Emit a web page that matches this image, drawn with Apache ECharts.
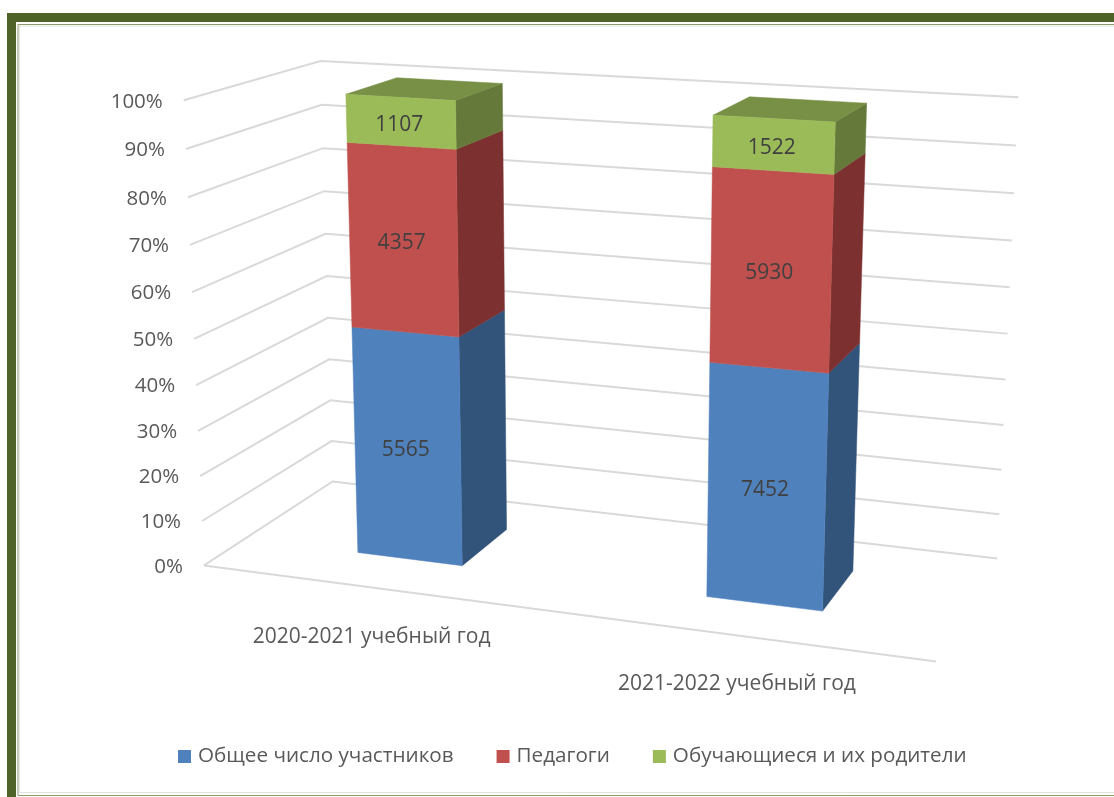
<!DOCTYPE html>
<html>
<head>
<meta charset="utf-8">
<style>
html, body { margin: 0; padding: 0; background: #fff; }
#chart { width: 1114px; height: 797px; }
</style>
<script src="https://cdn.jsdelivr.net/npm/echarts@6/dist/echarts.min.js"></script>
</head>
<body>
<div id="chart"></div>
<script>
var categories = ['2020-2021 учебный год', '2021-2022 учебный год'];
var seriesNames = ['Общее число участников', 'Педагоги', 'Обучающиеся и их родители'];
var participants = [5565, 7452];
var teachers = [4357, 5930];
var students = [1107, 1522];
var ticks = [0, 10, 20, 30, 40, 50, 60, 70, 80, 90, 100];
var tickLabels = ['0%', '10%', '20%', '30%', '40%', '50%', '60%', '70%', '80%', '90%', '100%'];

var font = '"Open Sans", "Noto Sans", sans-serif';
var faceColors = [
  { front: '#4f81bd', side: '#32537a', top: '#3f6897' },
  { front: '#c0504d', side: '#7c3130', top: '#9a403e' },
  { front: '#9bbb59', side: '#657a3a', top: '#788f46' }
];

// 透视标定：立方体的角 [x(0-1), y(0-1), z(0-1), 屏幕u, 屏幕v]
var anchors = [
  [0, 0, 0, 206, 565], [0, 1, 0, 182, 102],
  [0, 0, 1, 331, 482], [0, 1, 1, 323, 60],
  [1, 0, 1, 997, 559], [1, 1, 1, 1018, 97],
  [1, 0, 0, 937, 661], [0, 0.5, 0, 193, 338]
];

function solve(A, b) {
  var n = b.length, M = A.map(function (r, i) { return r.concat(b[i]); });
  for (var i = 0; i < n; i++) {
    var piv = i;
    for (var k = i + 1; k < n; k++) if (Math.abs(M[k][i]) > Math.abs(M[piv][i])) piv = k;
    var t = M[i]; M[i] = M[piv]; M[piv] = t;
    for (var k2 = 0; k2 < n; k2++) {
      if (k2 === i) continue;
      var f = M[k2][i] / M[i][i];
      for (var j = i; j <= n; j++) M[k2][j] -= f * M[i][j];
    }
  }
  return M.map(function (r, i) { return r[n] / r[i]; });
}

function fitCamera() {
  var rows = [], rhs = [];
  anchors.forEach(function (a) {
    var X = a[0], Y = a[1], Z = a[2], u = a[3] / 1000, v = a[4] / 1000;
    rows.push([X, Y, Z, 1, 0, 0, 0, 0, -u * X, -u * Y, -u * Z]); rhs.push(u);
    rows.push([0, 0, 0, 0, X, Y, Z, 1, -v * X, -v * Y, -v * Z]); rhs.push(v);
  });
  var AtA = [], Atb = [];
  for (var i = 0; i < 11; i++) {
    AtA.push([]);
    var s = 0;
    for (var r = 0; r < rows.length; r++) s += rows[r][i] * rhs[r];
    Atb.push(s);
    for (var j = 0; j < 11; j++) {
      var q = 0;
      for (var r2 = 0; r2 < rows.length; r2++) q += rows[r2][i] * rows[r2][j];
      AtA[i].push(q);
    }
  }
  return solve(AtA, Atb);
}
var cam = fitCamera();

function project(X, Y, Z) {
  var w = cam[8] * X + cam[9] * Y + cam[10] * Z + 1;
  return [1000 * (cam[0] * X + cam[1] * Y + cam[2] * Z + cam[3]) / w,
          1000 * (cam[4] * X + cam[5] * Y + cam[6] * Z + cam[7]) / w];
}

var barHalfWidth = 0.155, barFront = 0.3, barBack = 0.705;
var GRID_SIZE = 700;

// 用坐标轴把数值换成 0-1，再投影
function cube(api, xv, yv, z) {
  var c = api.coord([xv, yv]);
  return project(c[0] / GRID_SIZE, 1 - c[1] / GRID_SIZE, z);
}

function renderGridline(params, api) {
  var v = api.value(0);
  var a = cube(api, 0, v, 0), b = cube(api, 0, v, 1), c = cube(api, 2, v, 1);
  var lineStyle = { stroke: '#d9d9d9', lineWidth: 2, fill: null };
  var children = [
    { type: 'polyline', shape: { points: [a, b, c] }, style: lineStyle },
    { type: 'text', x: a[0] - 21, y: a[1] + 1.5, style: {
      text: tickLabels[params.dataIndex], fill: '#595959', fontSize: 20.5, fontFamily: font,
      align: 'right', verticalAlign: 'middle' } }
  ];
  if (v === 0) {
    var d = cube(api, 2, 0, 0);
    children.push({ type: 'line', shape: { x1: a[0], y1: a[1], x2: d[0], y2: d[1] }, style: lineStyle });
  }
  return { type: 'group', children: children };
}

function poly(points, color) {
  return { type: 'polygon', shape: { points: points }, style: { fill: color, stroke: color, lineWidth: 0.5 } };
}

function makeBarRenderer(idx) {
  return function (params, api) {
    var cat = api.value(0), lo = api.value(1), hi = api.value(2);
    var x0 = cat + 0.5 - barHalfWidth, x1 = cat + 0.5 + barHalfWidth;
    var fl = cube(api, x0, lo, barFront), fr = cube(api, x1, lo, barFront), br = cube(api, x1, lo, barBack);
    var tl = cube(api, x0, hi, barFront), tr = cube(api, x1, hi, barFront), trb = cube(api, x1, hi, barBack);
    var tlb = cube(api, x0, hi, barBack);
    var colors = faceColors[idx], children = [];
    children.push(poly([fr, br, trb, tr], colors.side));
    if (idx === seriesNames.length - 1) children.push(poly([tl, tr, trb, tlb], colors.top));
    children.push(poly([fl, fr, tr, tl], colors.front));
    var mid = cube(api, cat + 0.5, (lo + hi) / 2, barFront);
    children.push({ type: 'text', x: mid[0] - 1.5, y: mid[1] + 3, style: {
      text: String(api.value(3)), fill: '#404040', fontSize: 21, fontFamily: font,
      align: 'center', verticalAlign: 'middle' } });
    return { type: 'group', children: children };
  };
}

function renderCategory(params, api) {
  var p = cube(api, api.value(0) + 0.5, 0, 0);
  return { type: 'text', x: p[0] - 1, y: p[1] + 49, style: {
    text: categories[params.dataIndex], fill: '#595959', fontSize: 21, fontFamily: font,
    align: 'center', verticalAlign: 'middle' } };
}

var valueSets = [participants, teachers, students];
var barSeries = seriesNames.map(function (name, idx) {
  var data = categories.map(function (c, i) {
    var total = participants[i] + teachers[i] + students[i], below = 0;
    for (var k = 0; k < idx; k++) below += valueSets[k][i];
    return [i, below / total * 100, (below + valueSets[idx][i]) / total * 100, valueSets[idx][i]];
  });
  return {
    name: name, type: 'custom', coordinateSystem: 'cartesian2d', silent: true, z: 3 + idx,
    itemStyle: { color: faceColors[idx].front },
    encode: { x: 0, y: 2 }, data: data, renderItem: makeBarRenderer(idx)
  };
});

var chart = echarts.init(document.getElementById('chart'));
chart.setOption({
  animation: false,
  backgroundColor: '#fff',
  grid: { left: 0, top: 0, width: GRID_SIZE, height: GRID_SIZE, show: false },
  xAxis: { type: 'value', min: 0, max: 2, show: false },
  yAxis: { type: 'value', min: 0, max: 100, show: false },
  legend: {
    data: seriesNames, left: 173, top: 741, icon: 'rect', itemWidth: 13, itemHeight: 13, itemGap: 43,
    selectedMode: false,
    textStyle: { color: '#595959', fontSize: 20.65, fontFamily: font, padding: [0, 0, 0, 2] }
  },
  graphic: [
    { type: 'rect', shape: { x: 7, y: 13, width: 1107, height: 9 }, style: { fill: '#4f6228' } },
    { type: 'rect', shape: { x: 7, y: 13, width: 9, height: 784 }, style: { fill: '#4f6228' } },
    { type: 'polyline', shape: { points: [[1114, 24.5], [18, 24.5], [18, 795.5], [1114, 795.5]] }, style: { stroke: '#8a9a68', lineWidth: 1, fill: null } },
    { type: 'polyline', shape: { points: [[1114, 26], [19.5, 26], [19.5, 792.5], [1114, 792.5]] }, style: { stroke: '#e2e4de', lineWidth: 1, fill: null } }
  ],
  series: [
    { type: 'custom', coordinateSystem: 'cartesian2d', silent: true, z: 1, encode: { y: 0 },
      data: ticks.map(function (t) { return [t]; }), renderItem: renderGridline },
    { type: 'custom', coordinateSystem: 'cartesian2d', silent: true, z: 2, encode: { x: 0 },
      data: categories.map(function (c, i) { return [i]; }), renderItem: renderCategory }
  ].concat(barSeries)
});
</script>
</body>
</html>
